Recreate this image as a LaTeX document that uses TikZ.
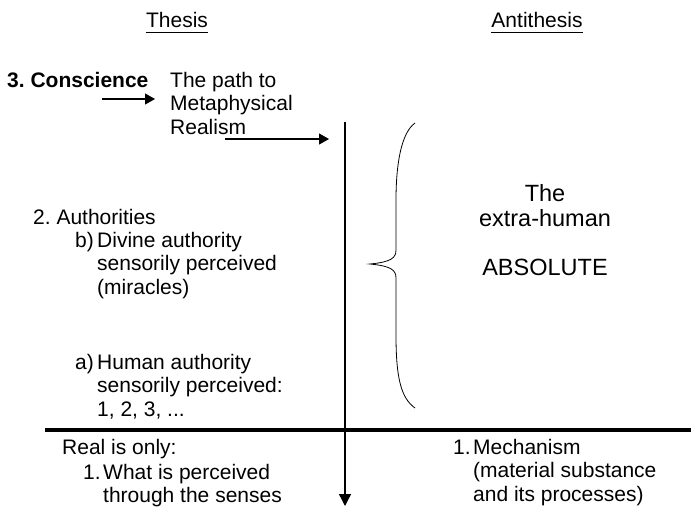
\documentclass[tikz,border=0pt]{standalone}
\usepackage{fontspec}
\setmainfont{Liberation Sans}
\usetikzlibrary{arrows.meta}
\tikzset{
txt/.style={inner sep=0pt,font=\fontsize{21}{23.5}\selectfont},
big/.style={inner sep=0pt,font=\fontsize{23.5}{25}\selectfont},
arr/.style={-{Triangle[length=10pt,width=11pt]},line width=1.2pt},
}
\frenchspacing
\begin{document}
\begin{tikzpicture}[x=1pt,y=-1pt]
\useasboundingbox (0,0) rectangle (691,507);
% headings
\node[txt,anchor=base](thesis) at (177,27.5){Thesis};
\node[txt,anchor=base](anti) at (537,27.5){Antithesis};
\draw[line width=1.4pt]([yshift=-4.5pt]thesis.south west)--([yshift=-4.5pt]thesis.south east);
\draw[line width=1.4pt]([yshift=-4.5pt]anti.south west)--([yshift=-4.5pt]anti.south east);
% thesis side
\node[txt,anchor=base west,font=\fontsize{21}{23.5}\selectfont\bfseries](consc) at (7,87.5){3. Conscience};
\node[txt,anchor=north west,align=left](path) at (170,72){The path to\\Metaphysical\\Realism};
\coordinate (a1s) at (102,99);
\coordinate (a1e) at (155,99);
\coordinate (a2s) at (225,139);
\coordinate (a2e) at (329,139);
\draw[arr](a1s)--(a1e);
\draw[arr](a2s)--(a2e);
\node[txt,anchor=base west](auth) at (33,224.5){2. Authorities};
\node[txt,anchor=base west](lblb) at (75,247.5){b)};
\node[txt,anchor=north west,align=left](divine) at (97,232){Divine authority\\sensorily perceived\\(miracles)};
\node[txt,anchor=base west](lbla) at (75,369.5){a)};
\node[txt,anchor=north west,align=left](human) at (97,354){Human authority\\sensorily perceived:\\1, 2, 3, ...};
% axes
\coordinate (vtop) at (345,122);
\coordinate (vbot) at (345,506);
\coordinate (hl) at (45,430);
\coordinate (hr) at (691,430);
\draw[line width=4pt](hl)--(hr);
\draw[-{Triangle[length=12pt,width=12pt]},line width=1.3pt](vtop)--(vbot);
% bottom row
\node[txt,anchor=base west](real) at (62,454.5){Real is only:};
\node[txt,anchor=base west](lbl1) at (83,479.5){1.};
\node[txt,anchor=north west,align=left](senses) at (103,464){What is perceived\\through the senses};
\node[txt,anchor=base west](lblm) at (453,454.5){1.};
\node[txt,anchor=north west,align=left](mech) at (473,439){Mechanism\\(material substance\\and its processes)};
% antithesis side
\draw[line width=0.8pt](415,123) .. controls (401,133) and (396,165) .. (396,200)
 -- (396,250) .. controls (396,258) and (391,262) .. (370,264)
 .. controls (391,266) and (396,270) .. (396,278)
 -- (396,335) .. controls (396,378) and (401,398) .. (415,408);
\node[big,anchor=north,align=center](extra) at (545,184.5){The\\extra-human};
\node[big,anchor=base](absol) at (545,275.5){ABSOLUTE};
\end{tikzpicture}
\end{document}
